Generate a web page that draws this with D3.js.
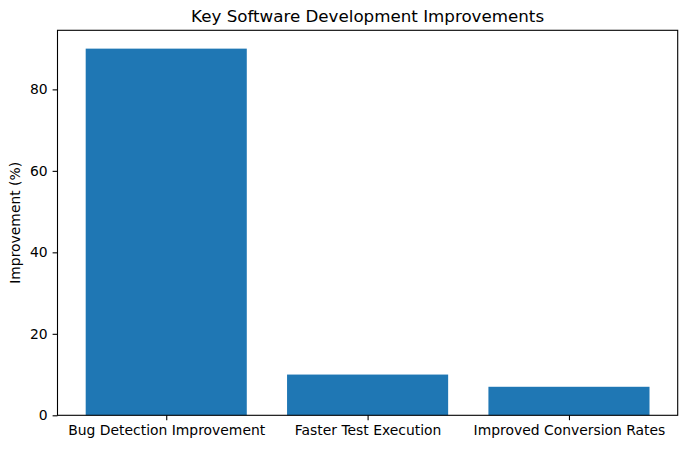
<!DOCTYPE html>
<html>
<head>
<meta charset="utf-8">
<script src="https://cdn.jsdelivr.net/npm/d3@7"></script>
<style>
  body { margin: 0; background: #fff; }
  text { font-family: "DejaVu Sans", sans-serif; fill: #000; }
</style>
</head>
<body>
<div id="chart"></div>
<script>
var categories = ["Bug Detection Improvement", "Faster Test Execution", "Improved Conversion Rates"];
var values = [90, 10, 7];
var yTicks = [0, 20, 40, 60, 80];

var margin = {top: 30.3, right: 9.3, bottom: 33.7, left: 57.5},
    width = 687 - margin.left - margin.right,
    height = 449 - margin.top - margin.bottom;

var barWidth = 0.8;
var lo = -barWidth / 2, hi = categories.length - 1 + barWidth / 2;
var pad = (hi - lo) * 0.05;

var x = d3.scaleLinear()
    .domain([lo - pad, hi + pad])
    .range([0, width]);

var y = d3.scaleLinear()
    .domain([0, d3.max(values) * 1.05])
    .range([height, 0]);

var svg = d3.select("#chart").append("svg")
    .attr("width", 687)
    .attr("height", 449)
  .append("g")
    .attr("transform", "translate(" + margin.left + "," + margin.top + ")");

svg.selectAll("rect.bar")
    .data(values)
  .enter().append("rect")
    .attr("class", "bar")
    .attr("x", function(d, i) { return x(i - barWidth / 2); })
    .attr("width", function(d, i) { return x(i + barWidth / 2) - x(i - barWidth / 2); })
    .attr("y", function(d) { return y(d); })
    .attr("height", function(d) { return y(0) - y(d); })
    .attr("fill", "#1f77b4");

var xAxis = d3.axisBottom(x)
    .tickValues(d3.range(categories.length))
    .tickFormat(function(i) { return categories[i]; })
    .tickSize(4.9)
    .tickPadding(4.6);

var yAxis = d3.axisLeft(y)
    .tickValues(yTicks)
    .tickSize(4.9)
    .tickPadding(4.9);

var gx = svg.append("g")
    .attr("transform", "translate(0," + height + ")")
    .call(xAxis);
var gy = svg.append("g").call(yAxis);

[gx, gy].forEach(function(g) {
  g.select(".domain").remove();
  g.selectAll(".tick line").attr("stroke", "#000").attr("stroke-width", 1.1);
  g.selectAll(".tick text")
      .style("font-family", "DejaVu Sans, sans-serif")
      .style("font-size", "13.9px")
      .attr("fill", "#000");
});

// frame
svg.append("rect")
    .attr("width", width)
    .attr("height", height)
    .attr("fill", "none")
    .attr("stroke", "#000")
    .attr("stroke-width", 1.1);

svg.append("text")
    .attr("x", width / 2)
    .attr("y", -8)
    .attr("text-anchor", "middle")
    .style("font-size", "16.7px")
    .text("Key Software Development Improvements");

svg.append("text")
    .attr("transform", "rotate(-90)")
    .attr("x", -height / 2)
    .attr("y", -38)
    .attr("text-anchor", "middle")
    .style("font-size", "13.9px")
    .text("Improvement (%)");
</script>
</body>
</html>
